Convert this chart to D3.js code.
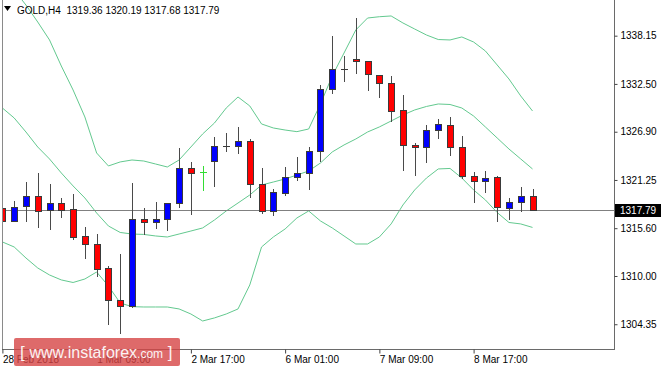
<!DOCTYPE html>
<html><head><meta charset="utf-8">
<script src="https://cdn.jsdelivr.net/npm/d3@7"></script>
<style>
body{margin:0;background:#fff;}
svg{display:block;font-family:"Liberation Sans",Arial,sans-serif;}
</style>
</head><body>
<svg id="chart" width="664" height="369"></svg>
<script>
// ---------- data ----------
const symbol = "GOLD,H4";
const times = [
 "28 Feb 01:00","28 Feb 05:00","28 Feb 09:00","28 Feb 13:00","28 Feb 17:00","28 Feb 21:00",
 "1 Mar 01:00","1 Mar 05:00","1 Mar 09:00","1 Mar 13:00","1 Mar 17:00","1 Mar 21:00",
 "2 Mar 01:00","2 Mar 05:00","2 Mar 09:00","2 Mar 13:00","2 Mar 17:00","2 Mar 21:00",
 "5 Mar 01:00","5 Mar 05:00","5 Mar 09:00","5 Mar 13:00","5 Mar 17:00","5 Mar 21:00",
 "6 Mar 01:00","6 Mar 05:00","6 Mar 09:00","6 Mar 13:00","6 Mar 17:00","6 Mar 21:00",
 "7 Mar 01:00","7 Mar 05:00","7 Mar 09:00","7 Mar 13:00","7 Mar 17:00","7 Mar 21:00",
 "8 Mar 01:00","8 Mar 05:00","8 Mar 09:00","8 Mar 13:00","8 Mar 17:00","8 Mar 21:00",
 "9 Mar 01:00","9 Mar 05:00","9 Mar 09:00","9 Mar 13:00"
];
const openP  = [1317.93,1316.48,1318.24,1319.41,1317.73,1318.59,1317.82,1314.69,1313.79,1310.91,1307.23,1306.46,
                1316.65,1316.29,1316.65,1318.52,1322.62,1322.15,1323.47,1325.23,1325.23,1325.82,1320.78,1317.65,
                1319.69,1321.63,1322.03,1324.68,1331.87,1334.25,1335.38,1335.22,1333.55,1332.64,1329.45,1325.35,
                1325.08,1327.10,1327.69,1325.15,1321.72,1321.13,1321.63,1318.01,1318.71,1319.36];
const highP  = [1318.59,1318.82,1320.98,1322.10,1320.74,1319.18,1319.57,1315.71,1314.89,1311.14,1312.55,1320.86,
                1317.93,1318.71,1318.59,1325.03,1323.32,1322.89,1326.25,1326.72,1327.42,1326.02,1322.69,1320.16,
                1322.74,1323.98,1325.15,1332.37,1338.11,1335.77,1340.19,1335.22,1333.55,1333.43,1331.20,1325.55,
                1327.69,1328.36,1328.66,1326.40,1322.15,1322.30,1321.72,1319.18,1320.47,1320.19];
const lowP   = [1315.28,1316.40,1316.48,1315.71,1315.48,1316.95,1314.30,1312.15,1310.04,1304.38,1303.33,1306.40,
                1314.92,1315.59,1315.39,1318.12,1317.23,1320.08,1320.58,1324.68,1324.37,1319.29,1317.42,1317.15,
                1319.46,1321.25,1320.16,1323.51,1331.40,1332.88,1333.82,1331.79,1330.97,1328.19,1322.42,1321.83,
                1323.32,1326.20,1324.18,1321.45,1318.64,1319.88,1316.45,1316.65,1317.62,1317.68];
const closeP = [1316.45,1318.12,1319.41,1317.65,1318.59,1317.73,1314.54,1313.79,1310.86,1307.19,1306.46,1316.68,
                1316.29,1316.65,1318.52,1322.62,1322.03,1322.15,1325.23,1325.25,1325.82,1320.78,1317.65,1319.84,
                1321.63,1322.10,1324.68,1331.87,1334.28,1334.27,1335.19,1333.63,1332.64,1329.37,1325.35,1325.15,
                1327.10,1327.81,1325.15,1321.72,1321.17,1321.52,1318.03,1318.71,1319.41,1317.79];
const bbUpper  = [1345.38,1343.50,1341.74,1339.75,1337.65,1334.60,1331.79,1328.63,1324.41,1322.89,1323.36,1323.59,
                  1323.47,1323.12,1322.77,1323.59,1325.11,1326.64,1327.92,1329.68,1330.97,1329.92,1327.81,1327.34,
                  1327.10,1326.91,1327.22,1330.15,1333.43,1336.12,1338.82,1340.22,1340.37,1340.46,1339.64,1338.93,
                  1338.23,1337.70,1337.65,1338.00,1337.41,1336.36,1334.72,1333.08,1331.09,1329.33];
const bbMiddle = [1329.68,1328.51,1326.87,1325.11,1323.71,1322.07,1320.55,1319.14,1317.38,1315.86,1315.10,1314.92,
                  1314.87,1314.69,1314.57,1314.92,1315.27,1315.63,1316.56,1317.62,1318.55,1319.49,1320.66,1321.01,
                  1321.37,1321.83,1322.30,1323.24,1324.53,1325.35,1326.05,1326.87,1327.46,1328.16,1328.86,1329.45,
                  1329.86,1330.15,1330.09,1329.68,1328.74,1327.46,1326.17,1324.88,1323.71,1322.54];
const bbLower  = [1313.99,1313.40,1312.11,1310.94,1310.12,1309.54,1309.24,1309.65,1310.47,1308.83,1306.84,1306.41,
                  1306.37,1306.37,1306.37,1306.14,1305.55,1304.73,1305.09,1305.55,1306.14,1308.95,1313.40,1314.57,
                  1315.51,1316.80,1317.62,1316.45,1315.63,1314.69,1313.75,1313.75,1314.57,1316.10,1318.32,1320.08,
                  1321.48,1322.54,1322.60,1321.48,1320.08,1318.91,1317.44,1316.27,1316.10,1315.69];
const priceTicks = [1304.35,1310.00,1315.60,1321.25,1326.90,1332.50,1338.15];
const timeTickIdx = [0,8,16,24,32,40];
const timeTickLabels = ["28 Feb 2018","1 Mar 09:00","2 Mar 17:00","6 Mar 01:00","7 Mar 09:00","8 Mar 17:00"];
const lastPrice = 1317.79;
const watermark = ["[ ","www.instaforex",".com"," ]"];

// ---------- layout ----------
const W = 664, H = 369;
const plot = {left: 2, right: 614, top: 0, bottom: 349};
const svg = d3.select("#chart");

const x = d3.scalePoint().domain(times).range([2.4, 532.5]);
const y = d3.scaleLinear().domain([1301.45, 1342.33]).range([plot.bottom, plot.top]);

svg.append("rect").attr("width", W).attr("height", H).attr("fill", "#fff");

svg.append("defs").append("clipPath").attr("id", "clip")
  .append("rect").attr("x", plot.left).attr("y", plot.top)
  .attr("width", plot.right - plot.left).attr("height", plot.bottom - plot.top);

const g = svg.append("g").attr("clip-path", "url(#clip)");

// Bollinger bands
const bandColor = "#63c98f";
[bbUpper, bbMiddle, bbLower].forEach(arr => {
  const line = d3.line().x((d, i) => x(times[i])).y(d => y(d));
  g.append("path").attr("d", line(arr)).attr("fill", "none")
    .attr("stroke", bandColor).attr("stroke-width", 1);
});

// last price line
const yl = Math.round(y(lastPrice)) + 0.5;
g.append("line").attr("x1", plot.left).attr("x2", plot.right).attr("y1", yl).attr("y2", yl)
  .attr("stroke", "#808080").attr("stroke-width", 1);

// candles
const data = times.map((t, i) => ({t, o: openP[i], h: highP[i], l: lowP[i], c: closeP[i]}));
const cg = g.append("g");
data.forEach(d => {
  const cx = Math.round(x(d.t));
  const doji = d.o === d.c;
  const wickColor = doji ? "#33dd33" : "#4a4a4a";
  cg.append("line").attr("x1", cx + 0.5).attr("x2", cx + 0.5)
    .attr("y1", Math.round(y(d.h))).attr("y2", Math.round(y(d.l)) + 1)
    .attr("stroke", wickColor).attr("stroke-width", 1);
  if (doji) {
    const yy = Math.round(y(d.o)) + 0.5;
    cg.append("line").attr("x1", cx - 3).attr("x2", cx + 4).attr("y1", yy).attr("y2", yy)
      .attr("stroke", "#33dd33").attr("stroke-width", 1);
  } else {
    const top = Math.round(y(Math.max(d.o, d.c))) + 0.5;
    const bot = Math.round(y(Math.min(d.o, d.c))) + 0.5;
    cg.append("rect").attr("x", cx - 2.5).attr("y", top).attr("width", 6)
      .attr("height", Math.max(bot - top, 0.01))
      .attr("fill", d.c > d.o ? "#0000ff" : "#ff0000")
      .attr("stroke", "#3a3a3a").attr("stroke-width", 1);
  }
});

// frame
svg.append("line").attr("x1", plot.left + 0.5).attr("x2", plot.left + 0.5).attr("y1", 0).attr("y2", plot.bottom)
  .attr("stroke", "#8a8a8a");
svg.append("line").attr("x1", plot.left).attr("x2", plot.right + 1).attr("y1", plot.bottom + 0.5).attr("y2", plot.bottom + 0.5)
  .attr("stroke", "#6a6a6a");
svg.append("line").attr("x1", plot.right + 0.5).attr("x2", plot.right + 0.5).attr("y1", 0).attr("y2", plot.bottom + 1)
  .attr("stroke", "#6a6a6a");

// right price axis
const yAxis = d3.axisRight(y).tickValues(priceTicks).tickFormat(d3.format(".2f"))
  .tickSize(3).tickPadding(3).tickSizeOuter(0);
const ya = svg.append("g").attr("transform", `translate(${plot.right + 0.5},0)`).call(yAxis);
ya.select(".domain").remove();
ya.selectAll(".tick line").attr("stroke", "#444");
ya.selectAll(".tick text").attr("fill", "#000").style("font-size", "10px")
  .style("font-family", '"Liberation Sans",Arial,sans-serif');

// current price label
const lbl = svg.append("g").attr("transform", `translate(${plot.right + 1},${yl})`);
lbl.append("rect").attr("x", 0).attr("y", -6.5).attr("width", 46).attr("height", 13).attr("fill", "#000");
lbl.append("text").attr("x", 5).attr("y", 0).attr("dy", "0.35em").attr("fill", "#fff")
  .style("font-size", "10px").text(d3.format(".2f")(lastPrice));

// bottom time axis
const tickMap = new Map(timeTickIdx.map((k, i) => [times[k], timeTickLabels[i]]));
const xAxis = d3.axisBottom(x).tickValues(timeTickIdx.map(k => times[k]))
  .tickFormat(t => tickMap.get(t)).tickSize(4).tickPadding(2).tickSizeOuter(0);
const xa = svg.append("g").attr("transform", `translate(0,${plot.bottom + 0.5})`).call(xAxis);
xa.select(".domain").remove();
xa.selectAll(".tick line").attr("stroke", "#444");
xa.selectAll(".tick text").attr("text-anchor", "start").attr("x", 0).attr("fill", "#000")
  .style("font-size", "10px").style("font-family", '"Liberation Sans",Arial,sans-serif');

// header
svg.append("path").attr("d", "M4,6 L11,6 L7.5,11 Z").attr("fill", "#000");
svg.append("text").attr("x", 17).attr("y", 14).attr("fill", "#000").style("font-size", "10px")
  .style("white-space", "pre")
  .text(`${symbol}  ${[openP, highP, lowP, closeP].map(a => a[a.length - 1].toFixed(2)).join(" ")}`);

// watermark (semi-transparent, lies over the first time labels as in the reference)
const wm = svg.append("g");
wm.append("rect").attr("x", 14).attr("y", 338).attr("width", 166).attr("height", 28).attr("rx", 2)
  .attr("fill", "#d64545").attr("opacity", 0.8);
const wt = wm.append("text").attr("x", 20).attr("y", 358).attr("fill", "#fff").attr("opacity", 0.92)
  .style("white-space", "pre");
wt.append("tspan").style("font-size", "17px").style("font-weight", "300").text(watermark[0]);
wt.append("tspan").style("font-size", "16px").text(watermark[1]);
wt.append("tspan").style("font-size", "12px").text(watermark[2]);
wt.append("tspan").style("font-size", "17px").style("font-weight", "300").text(watermark[3]);
</script>
</body></html>
